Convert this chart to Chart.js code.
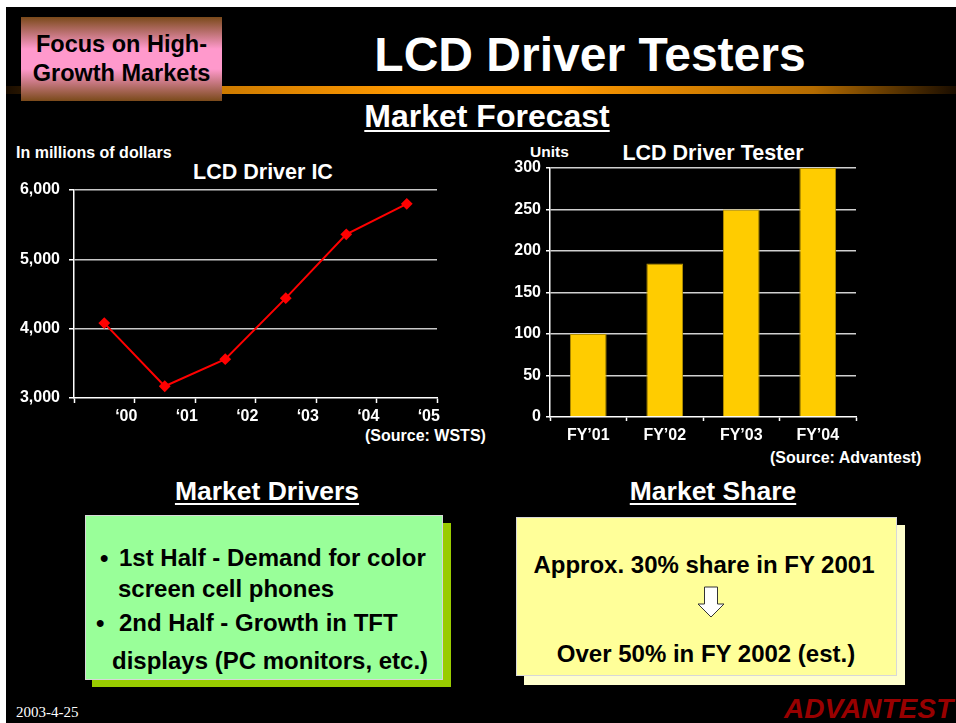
<!DOCTYPE html>
<html>
<head>
<meta charset="utf-8">
<script src="https://cdn.jsdelivr.net/npm/chart.js@4/dist/chart.umd.min.js"></script>
<style>
  html, body { margin: 0; padding: 0; background: #fff; overflow: hidden; }
  #slide { position: absolute; left: 6px; top: 7px; width: 950px; height: 716px; background: #000; }
  .t { position: absolute; font-family: "Liberation Sans", Arial, sans-serif; font-weight: bold; line-height: 1; white-space: nowrap; color: #fff; }
  .c { text-align: center; }
  canvas { position: absolute; }
</style>
</head>
<body>
<div id="slide"></div>

<!-- header -->
<div style="position:absolute;left:6px;top:86px;width:950px;height:8px;background:linear-gradient(to right,#1a0d00 0%,#cc7a00 22%,#ff9900 42%,#ff9900 58%,#b36b00 85%,#1a0d00 100%);"></div>
<div style="position:absolute;left:21px;top:17px;width:201px;height:84px;background:linear-gradient(to bottom,#7a4a1a 0%,#ff99cc 38%,#ff99cc 62%,#7a4a1a 100%);"></div>
<div class="t c" style="left:21px;width:201px;top:33px;font-size:23.5px;color:#000;">Focus on High-</div>
<div class="t c" style="left:21px;width:201px;top:62px;font-size:23.5px;color:#000;">Growth Markets</div>
<div class="t c" style="left:340px;width:500px;top:31px;font-size:48px;">LCD Driver Testers</div>
<div class="t c" style="left:287px;width:400px;top:100px;font-size:32px;text-decoration:underline;text-decoration-thickness:2px;text-underline-offset:3px;">Market Forecast</div>

<!-- chart labels -->
<div class="t" style="left:16px;top:145px;font-size:16px;">In millions of dollars</div>
<div class="t c" style="left:113px;width:300px;top:162px;font-size:21.5px;">LCD Driver IC</div>
<div class="t" style="left:365px;top:428px;font-size:16px;">(Source: WSTS)</div>
<div class="t" style="left:530px;top:144px;font-size:15.5px;">Units</div>
<div class="t c" style="left:563px;width:300px;top:143px;font-size:21.5px;">LCD Driver Tester</div>
<div class="t" style="left:770px;top:450px;font-size:16px;">(Source: Advantest)</div>

<canvas id="icChart" width="480" height="268" style="left:0;top:170px;"></canvas>
<canvas id="testerChart" width="476" height="307" style="left:480px;top:150px;"></canvas>

<!-- lower section -->
<div class="t c" style="left:117px;width:300px;top:478px;font-size:26.5px;text-decoration:underline;text-decoration-thickness:2px;text-underline-offset:3px;">Market Drivers</div>
<div class="t c" style="left:563px;width:300px;top:478px;font-size:26.5px;text-decoration:underline;text-decoration-thickness:2px;text-underline-offset:3px;">Market Share</div>

<div style="position:absolute;left:92px;top:523px;width:359px;height:164px;background:#99cc00;"></div>
<div style="position:absolute;left:85px;top:515px;width:356px;height:163px;background:#99ff99;border:1px solid #d8d8d8;"></div>
<div class="t" style="left:100px;top:546px;font-size:24px;color:#000;">•</div>
<div class="t" style="left:119px;top:546px;font-size:24px;color:#000;">1st Half - Demand for color</div>
<div class="t" style="left:118px;top:577px;font-size:24px;color:#000;">screen cell phones</div>
<div class="t" style="left:96px;top:611px;font-size:24px;color:#000;">•</div>
<div class="t" style="left:119px;top:611px;font-size:24px;color:#000;">2nd Half - Growth in TFT</div>
<div class="t" style="left:112px;top:649px;font-size:24px;color:#000;">displays (PC monitors, etc.)</div>

<div style="position:absolute;left:524px;top:525px;width:381px;height:160px;background:#ffffcc;"></div>
<div style="position:absolute;left:516px;top:517px;width:379px;height:157px;background:#ffff99;border:1px solid #d8d8d8;"></div>
<div class="t c" style="left:504px;width:400px;top:553px;font-size:24px;color:#000;">Approx. 30% share in FY 2001</div>
<svg style="position:absolute;left:697px;top:586px;" width="29" height="33">
  <polygon points="7.5,1 20.5,1 20.5,18 27,18 14,31 1,18 7.5,18" fill="#fff" stroke="#333" stroke-width="1"/>
</svg>
<div class="t c" style="left:506px;width:400px;top:642px;font-size:24px;color:#000;">Over 50% in FY 2002 (est.)</div>

<div style="position:absolute;left:16px;top:705px;font-family:'Liberation Serif','Times New Roman',serif;font-size:15px;color:#fff;line-height:1;">2003-4-25</div>
<div class="t" style="left:784px;top:695px;font-size:28px;font-style:italic;font-weight:900;color:#990000;letter-spacing:0px;">ADVANTEST</div>

<script>
// LCD Driver IC market, millions of dollars
const icYears = ["\u201800", "\u201801", "\u201802", "\u201803", "\u201804", "\u201805"];
const icSales = [4080, 3170, 3560, 4440, 5360, 5800];

// LCD Driver Tester units
const testerYears = ["FY\u201901", "FY\u201902", "FY\u201903", "FY\u201904"];
const testerUnits = [100, 185, 250, 300];

const FONT = "'Liberation Sans', Arial, sans-serif";
const tickFont = { family: FONT, weight: "bold", size: 16 };

// ---------- line chart ----------
new Chart(document.getElementById("icChart"), {
  type: "line",
  data: {
    labels: icYears,
    datasets: [{
      data: icSales,
      borderColor: "#ff0000",
      borderWidth: 2,
      backgroundColor: "#ff0000",
      pointStyle: "rectRot",
      pointRadius: 4.5,
      tension: 0
    }]
  },
  options: {
    responsive: false,
    animation: false,
    layout: { padding: { top: 20, right: 43, bottom: 0, left: 0 } },
    plugins: { legend: { display: false }, tooltip: { enabled: false } },
    scales: {
      x: {
        offset: true,
        grid: { offset: true, drawOnChartArea: false, tickLength: 5, tickColor: "#fff", tickWidth: 1.5 },
        border: { color: "#fff", width: 1.5 },
        ticks: { color: "#fff", font: tickFont, padding: 4, labelOffset: 22, maxRotation: 0, autoSkip: false },
        afterFit: s => { s.height = 40; }
      },
      y: {
        min: 3000,
        max: 6000,
        ticks: {
          stepSize: 1000,
          color: "#fff",
          font: tickFont,
          padding: 9,
          callback: v => v.toLocaleString("en-US")
        },
        grid: {
          color: c => c.tick && c.tick.value === 3000 ? "rgba(0,0,0,0)" : "#c8c8c8",
          lineWidth: 1.5,
          tickColor: "#fff",
          tickLength: 5
        },
        border: { color: "#fff", width: 1.5 },
        afterFit: s => { s.width = 74; }
      }
    }
  }
});

// ---------- bar chart ----------
new Chart(document.getElementById("testerChart"), {
  type: "bar",
  data: {
    labels: testerYears,
    datasets: [{
      data: testerUnits,
      backgroundColor: "#ffcc00",
      borderColor: "#b38f00",
      borderWidth: 1,
      barPercentage: 0.48,
      categoryPercentage: 1
    }]
  },
  options: {
    responsive: false,
    animation: false,
    layout: { padding: { top: 18, right: 100, bottom: 0, left: 0 } },
    plugins: { legend: { display: false }, tooltip: { enabled: false } },
    scales: {
      x: {
        grid: { offset: true, drawOnChartArea: false, tickLength: 4, tickColor: "#fff", tickWidth: 1.5 },
        border: { color: "#fff", width: 1.5 },
        ticks: { color: "#fff", font: tickFont, padding: 5, maxRotation: 0, autoSkip: false },
        afterFit: s => { s.height = 40; }
      },
      y: {
        min: 0,
        max: 300,
        ticks: { stepSize: 50, color: "#fff", font: tickFont, padding: 5 },
        grid: {
          color: c => c.tick && c.tick.value === 0 ? "rgba(0,0,0,0)" : "#d0d0d0",
          lineWidth: 1.5,
          tickColor: "#fff",
          tickLength: 4
        },
        border: { color: "#fff", width: 1.5 },
        afterFit: s => { s.width = 70; }
      }
    }
  }
});
</script>
</body>
</html>
